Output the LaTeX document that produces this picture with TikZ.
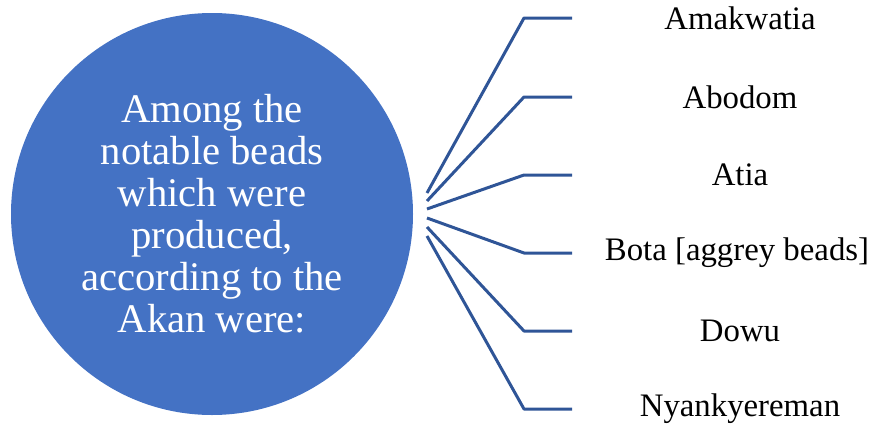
\documentclass[tikz,border=0pt]{standalone}
\usepackage{fontspec}
\setmainfont{Liberation Serif}
\usepackage{tikz}
\usetikzlibrary{positioning}
\definecolor{hubblue}{RGB}{68,114,196}
\definecolor{spokeblue}{RGB}{47,85,151}

\begin{document}
\begin{tikzpicture}[
  x=0.75pt, y=-0.75pt,
  hub/.style={
    circle, fill=hubblue, draw=none, minimum size=402*0.75pt,
    text=white, align=center, inner sep=0pt,
    font=\fontsize{30.5}{31.5}\selectfont
  },
  spoke/.style={draw=spokeblue, line width=2.25pt, line join=round},
  bead/.style={font=\fontsize{24.6}{28}\selectfont, anchor=center, text=black}
]
\useasboundingbox (0,0) rectangle (878,425);

% Central circle
\node[hub] (akan) at (212,214) {Among the\\notable beads\\which were\\produced,\\according to the\\Akan were:};

% Fan start points
\coordinate (s1) at (427,193);
\coordinate (s2) at (427,201);
\coordinate (s3) at (427,209);
\coordinate (s4) at (427,218);
\coordinate (s5) at (427,227);
\coordinate (s6) at (427,236);

% Bends and ends
\coordinate (b1) at (524,18);  \coordinate (e1) at (572,18);
\coordinate (b2) at (524,97);  \coordinate (e2) at (572,97);
\coordinate (b3) at (524,175); \coordinate (e3) at (572,175);
\coordinate (b4) at (524,253); \coordinate (e4) at (572,253);
\coordinate (b5) at (524,331); \coordinate (e5) at (572,331);
\coordinate (b6) at (524,409); \coordinate (e6) at (572,409);

\draw[spoke] (s1) -- (b1) -- (e1);
\draw[spoke] (s2) -- (b2) -- (e2);
\draw[spoke] (s3) -- (b3) -- (e3);
\draw[spoke] (s4) -- (b4) -- (e4);
\draw[spoke] (s5) -- (b5) -- (e5);
\draw[spoke] (s6) -- (b6) -- (e6);

% Bead names
\node[bead] (amakwatia) at (740,18)  {Amakwatia};
\node[bead] (abodom)    at (740,97)  {Abodom};
\node[bead] (atia)      at (740,175) {Atia};
\node[bead] (bota)      at (737,253) {Bota [aggrey beads]};
\node[bead] (dowu)      at (740,331) {Dowu};
\node[bead] (nyank)     at (740,409) {Nyankyereman};

\end{tikzpicture}
\end{document}
